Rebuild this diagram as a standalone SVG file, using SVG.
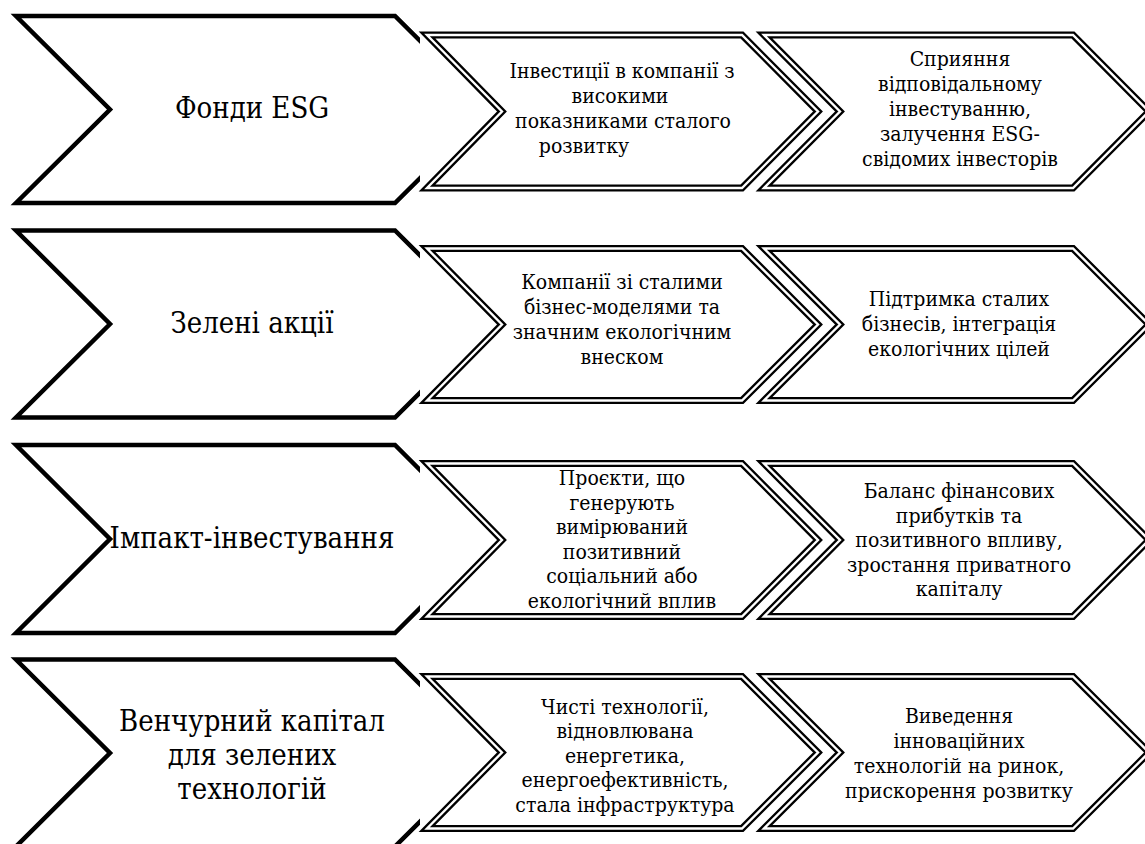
<svg xmlns="http://www.w3.org/2000/svg" width="1145" height="844" viewBox="0 0 1145 844">
<style>
.big{fill:#fff;stroke:#000;stroke-width:4.5;stroke-linejoin:miter;stroke-miterlimit:10}
.dbl{fill:#fff;stroke:#000;stroke-width:7;stroke-linejoin:miter;stroke-miterlimit:10}
.dbi{fill:none;stroke:#fff;stroke-width:2.4;stroke-linejoin:miter;stroke-miterlimit:10}
.t1{font-family:"DejaVu Serif Condensed","DejaVu Serif","Liberation Serif",serif;font-stretch:condensed;font-size:29px;fill:#000;text-anchor:middle}
.t2{font-family:"DejaVu Serif Condensed","DejaVu Serif","Liberation Serif",serif;font-stretch:condensed;font-size:21px;fill:#000;text-anchor:middle}
</style>
<defs>
<clipPath id="c1"><path clip-rule="evenodd" d="M0 0H1145V844H0Z M420 31V192H1145V31Z"/></clipPath>
<clipPath id="c2"><path clip-rule="evenodd" d="M0 0H1145V844H0Z M420 245V404H1145V245Z"/></clipPath>
<clipPath id="c3"><path clip-rule="evenodd" d="M0 0H1145V844H0Z M420 460V620H1145V460Z"/></clipPath>
<clipPath id="c4"><path clip-rule="evenodd" d="M0 0H1145V844H0Z M420 673V832H1145V673Z"/></clipPath>
</defs>
<rect width="1145" height="844" fill="#fff"/>

<!-- Row 1 -->
<g id="esg-funds">
<polygon class="big" clip-path="url(#c1)" points="16,16 395,16 489,109.5 395,203 16,203 110,109.5"/>
<text class="t1" x="252" y="118">Фонди ESG</text>
</g>
<g id="esg-target">
<polygon class="dbl" points="427,35 742,35 818,111.5 742,188 427,188 502,111.5"/>
<polygon class="dbi" points="427,35 742,35 818,111.5 742,188 427,188 502,111.5"/>
<text class="t2" x="622" y="78">Інвестиції в компанії з</text>
<text class="t2" x="620" y="103">високими</text>
<text class="t2" x="623" y="128">показниками сталого</text>
<text class="t2" x="584" y="153">розвитку</text>
</g>
<g id="esg-effect">
<polygon class="dbl" points="764,35 1073,35 1149,111.5 1073,188 764,188 840,111.5"/>
<polygon class="dbi" points="764,35 1073,35 1149,111.5 1073,188 764,188 840,111.5"/>
<text class="t2" x="960" y="66">Сприяння</text>
<text class="t2" x="960" y="91">відповідальному</text>
<text class="t2" x="960" y="116">інвестуванню,</text>
<text class="t2" x="960" y="141">залучення ESG-</text>
<text class="t2" x="960" y="166">свідомих інвесторів</text>
</g>

<!-- Row 2 -->
<g id="green-stocks">
<polygon class="big" clip-path="url(#c2)" points="16,230.5 395,230.5 489,324 395,417.5 16,417.5 110,324"/>
<text class="t1" x="252" y="333">Зелені акції</text>
</g>
<g id="green-target">
<polygon class="dbl" points="427,248.5 742,248.5 818,324.5 742,400.5 427,400.5 502,324.5"/>
<polygon class="dbi" points="427,248.5 742,248.5 818,324.5 742,400.5 427,400.5 502,324.5"/>
<text class="t2" x="622" y="289">Компанії зі сталими</text>
<text class="t2" x="622" y="314">бізнес-моделями та</text>
<text class="t2" x="622" y="339">значним екологічним</text>
<text class="t2" x="622" y="364">внеском</text>
</g>
<g id="green-effect">
<polygon class="dbl" points="764,248.5 1073,248.5 1149,324.5 1073,400.5 764,400.5 840,324.5"/>
<polygon class="dbi" points="764,248.5 1073,248.5 1149,324.5 1073,400.5 764,400.5 840,324.5"/>
<text class="t2" x="959" y="306">Підтримка сталих</text>
<text class="t2" x="959" y="331">бізнесів, інтеграція</text>
<text class="t2" x="959" y="356">екологічних цілей</text>
</g>

<!-- Row 3 -->
<g id="impact">
<polygon class="big" clip-path="url(#c3)" points="16,445 395,445 489,539 395,633 16,633 110,539"/>
<text class="t1" x="252" y="548">Імпакт-інвестування</text>
</g>
<g id="impact-target">
<polygon class="dbl" points="427,463.5 742,463.5 818,540 742,616.5 427,616.5 502,540"/>
<polygon class="dbi" points="427,463.5 742,463.5 818,540 742,616.5 427,616.5 502,540"/>
<text class="t2" x="622" y="485">Проєкти, що</text>
<text class="t2" x="622" y="509.6">генерують</text>
<text class="t2" x="622" y="534.2">вимірюваний</text>
<text class="t2" x="622" y="558.8">позитивний</text>
<text class="t2" x="622" y="583.4">соціальний або</text>
<text class="t2" x="622" y="608">екологічний вплив</text>
</g>
<g id="impact-effect">
<polygon class="dbl" points="764,463.5 1073,463.5 1149,540 1073,616.5 764,616.5 840,540"/>
<polygon class="dbi" points="764,463.5 1073,463.5 1149,540 1073,616.5 764,616.5 840,540"/>
<text class="t2" x="959" y="498">Баланс фінансових</text>
<text class="t2" x="959" y="522.5">прибутків та</text>
<text class="t2" x="959" y="547">позитивного впливу,</text>
<text class="t2" x="959" y="571.5">зростання приватного</text>
<text class="t2" x="959" y="596">капіталу</text>
</g>

<!-- Row 4 -->
<g id="venture">
<polygon class="big" clip-path="url(#c4)" points="16,659.5 395,659.5 489,753 395,846.5 16,846.5 110,753"/>
<text class="t1" x="252" y="731">Венчурний капітал</text>
<text class="t1" x="252" y="765">для зелених</text>
<text class="t1" x="252" y="799">технологій</text>
</g>
<g id="venture-target">
<polygon class="dbl" points="427,676.5 742,676.5 818,752.5 742,828.5 427,828.5 502,752.5"/>
<polygon class="dbi" points="427,676.5 742,676.5 818,752.5 742,828.5 427,828.5 502,752.5"/>
<text class="t2" x="625" y="713.5">Чисті технології,</text>
<text class="t2" x="625" y="738">відновлювана</text>
<text class="t2" x="625" y="762.6">енергетика,</text>
<text class="t2" x="625" y="787.2">енергоефективність,</text>
<text class="t2" x="625" y="811.8">стала інфраструктура</text>
</g>
<g id="venture-effect">
<polygon class="dbl" points="764,676.5 1073,676.5 1149,752.5 1073,828.5 764,828.5 840,752.5"/>
<polygon class="dbi" points="764,676.5 1073,676.5 1149,752.5 1073,828.5 764,828.5 840,752.5"/>
<text class="t2" x="959" y="723">Виведення</text>
<text class="t2" x="959" y="748">інноваційних</text>
<text class="t2" x="959" y="773">технологій на ринок,</text>
<text class="t2" x="959" y="798">прискорення розвитку</text>
</g>
</svg>
